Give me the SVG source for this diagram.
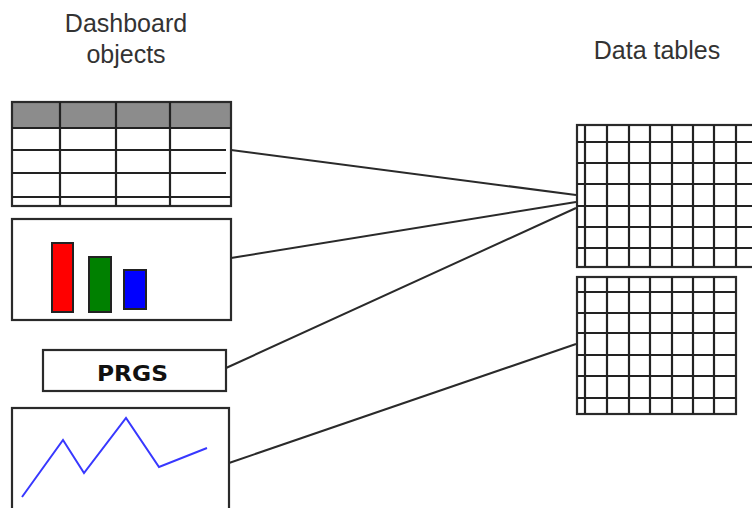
<svg xmlns="http://www.w3.org/2000/svg" width="752" height="508" viewBox="0 0 752 508">
<style>
.lbl{font-family:"Liberation Sans",Arial,sans-serif;font-size:25px;fill:#333;text-anchor:middle}
.box{fill:#fff;stroke:#2a2a2a;stroke-width:2.2}
.ln{stroke:#222;stroke-width:2.2;fill:none}
.conn{stroke:#2a2a2a;stroke-width:2;fill:none}
.bar{stroke:#222;stroke-width:2}
</style>
<rect width="752" height="508" fill="#fff"/>
<text class="lbl" x="126" y="32">Dashboard</text>
<text class="lbl" x="126" y="63">objects</text>
<text class="lbl" x="657" y="59">Data tables</text>

<g id="connectors">
<line class="conn" x1="231" y1="150" x2="576" y2="195"/>
<line class="conn" x1="231" y1="258" x2="576" y2="202"/>
<line class="conn" x1="226" y1="368" x2="576" y2="208"/>
<line class="conn" x1="229" y1="463" x2="576" y2="344"/>
</g>

<g id="table-widget">
<rect x="12" y="102" width="219" height="26" fill="#8c8c8c"/>
<rect class="box" x="12" y="102" width="219" height="104" style="fill:none"/>
<path class="ln" d="M12 128H231M12 150H226M12 173H226M12 197H231M60 102V206M116 102V206M170 102V206"/>
</g>

<g id="bar-chart-widget">
<rect class="box" x="12" y="219" width="219" height="101"/>
<rect class="bar" x="52" y="243" width="21" height="69" fill="#ff0000"/>
<rect class="bar" x="89" y="257" width="22" height="55" fill="#008000"/>
<rect class="bar" x="124" y="270" width="22" height="39" fill="#0000ff"/>
</g>

<g id="prgs-widget">
<rect class="box" x="43" y="350" width="183" height="41"/>
<text x="97" y="381" textLength="71" lengthAdjust="spacingAndGlyphs" style="font-family:'DejaVu Sans',Verdana,sans-serif;font-weight:bold;font-size:21px;fill:#111">PRGS</text>
</g>

<g id="line-chart-widget">
<rect class="box" x="12" y="408" width="217" height="110"/>
<polyline points="22,497 63,440 84,473 126,418 159,467 207,448" fill="none" stroke="#3838ff" stroke-width="2"/>
</g>

<g id="data-table-1">
<rect class="box" x="577" y="125" width="185" height="142"/>
<path class="ln" d="M585 125V267M607 125V267M629 125V267M650 125V267M672 125V267M693 125V267M714 125V267M736 125V267M577 142H752M577 163H752M577 184H752M577 206H752M577 227H752M577 248H752"/>
</g>

<g id="data-table-2">
<rect class="box" x="577" y="277" width="159" height="137"/>
<path class="ln" d="M585 277V414M607 277V414M629 277V414M650 277V414M672 277V414M693 277V414M714 277V414M577 292H736M577 313H736M577 333H736M577 355H736M577 376H736M577 398H736"/>
</g>
</svg>
